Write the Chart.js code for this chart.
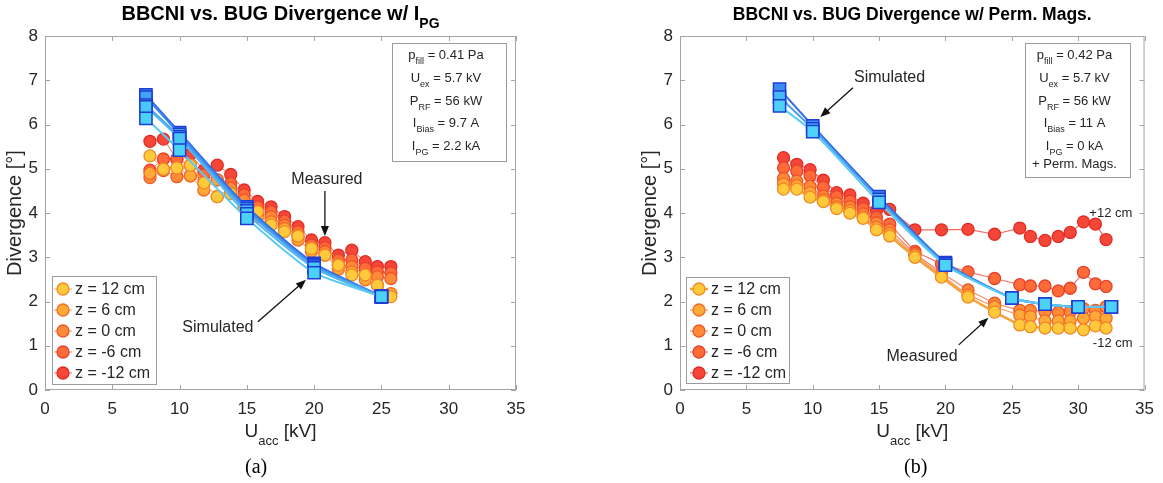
<!DOCTYPE html>
<html>
<head>
<meta charset="utf-8">
<script src="https://cdn.jsdelivr.net/npm/chart.js@4.4.1/dist/chart.umd.min.js"></script>
<style>
  body { margin:0; background:#fff; width:1163px; height:483px; overflow:hidden; position:relative; }
  canvas { position:absolute; top:0; }
  #ca { left:0; }
  #cb { left:580px; }
  .cap { position:absolute; top:455px; font:20px "Liberation Serif","Times New Roman",serif; color:#000; line-height:23px; }
</style>
</head>
<body>
<canvas id="ca" width="580" height="483"></canvas>
<canvas id="cb" width="583" height="483"></canvas>
<div class="cap" style="left:245px">(a)</div>
<div class="cap" style="left:904px">(b)</div>
<script>
// ---- data ----
const zLabels = ['z = 12 cm', 'z = 6 cm', 'z = 0 cm', 'z = -6 cm', 'z = -12 cm'];
const xTicks = [0, 5, 10, 15, 20, 25, 30, 35];
const yTicks = [0, 1, 2, 3, 4, 5, 6, 7, 8];

// (a) with I_PG
const xMeasA = [7.8, 8.8, 9.8, 10.8, 11.8, 12.8, 13.8, 14.8, 15.8, 16.8, 17.8, 18.8, 19.8, 20.8, 21.8, 22.8, 23.8, 24.7, 25.7];
const measA12  = [5.29, 4.99, 5.02, 5.08, 4.68, 4.37, 4.44, 4.14, 4.03, 3.73, 3.58, 3.48, 3.20, 3.05, 2.82, 2.60, 2.60, 2.37, 2.11];
const measA6   = [4.90, 4.99, 5.02, 4.84, 4.52, 4.75, 4.44, 4.14, 3.92, 3.80, 3.65, 3.39, 3.13, 3.05, 2.73, 2.67, 2.49, 2.37, 2.18];
const measA0   = [4.80, 4.96, 4.82, 4.84, 4.68, 4.37, 4.56, 4.29, 4.03, 3.92, 3.72, 3.48, 3.20, 3.13, 2.82, 2.79, 2.60, 2.56, 2.52];
const measAm6  = [4.97, 5.22, 5.22, 5.08, 4.86, 4.75, 4.67, 4.41, 4.14, 4.03, 3.82, 3.58, 3.28, 3.22, 2.94, 2.94, 2.75, 2.67, 2.65];
const measAm12 = [5.62, 5.67, 5.22, 5.33, 4.97, 5.08, 4.87, 4.52, 4.26, 4.14, 3.92, 3.69, 3.39, 3.33, 3.05, 3.16, 2.90, 2.79, 2.79];
const xSimA = [7.5, 10, 15, 20, 25];
const simA1 = [6.67, 5.82, 4.14, 2.86, 2.12];
const simA2 = [6.62, 5.78, 4.10, 2.83, 2.12];
const simA3 = [6.44, 5.72, 4.05, 2.80, 2.11];
const simA4 = [6.40, 5.68, 3.98, 2.76, 2.10];
const simA5 = [6.14, 5.42, 3.88, 2.65, 2.11];

// (b) with permanent magnets
const xMeasB = [7.8, 8.8, 9.8, 10.8, 11.8, 12.8, 13.8, 14.8, 15.8, 17.7, 19.7, 21.7, 23.7, 25.6, 26.4, 27.5, 28.5, 29.4, 30.4, 31.3, 32.1];
const measB12  = [4.54, 4.54, 4.36, 4.26, 4.10, 4.00, 3.88, 3.62, 3.48, 3.00, 2.55, 2.10, 1.76, 1.47, 1.43, 1.40, 1.40, 1.40, 1.36, 1.45, 1.40];
const measB6   = [4.66, 4.62, 4.46, 4.30, 4.14, 4.06, 3.92, 3.68, 3.54, 3.05, 2.60, 2.15, 1.88, 1.69, 1.66, 1.56, 1.56, 1.56, 1.62, 1.66, 1.62];
const measB0   = [4.78, 4.72, 4.60, 4.38, 4.22, 4.14, 3.98, 3.78, 3.62, 3.08, 2.65, 2.26, 1.96, 1.80, 1.80, 1.77, 1.75, 1.77, 1.84, 1.80, 1.88];
const measBm6  = [5.02, 4.95, 4.84, 4.58, 4.37, 4.27, 4.10, 3.90, 3.75, 3.13, 2.85, 2.67, 2.52, 2.38, 2.35, 2.35, 2.24, 2.30, 2.66, 2.40, 2.34];
const measBm12 = [5.25, 5.10, 4.98, 4.74, 4.46, 4.41, 4.22, 4.05, 4.08, 3.62, 3.62, 3.63, 3.52, 3.66, 3.47, 3.38, 3.47, 3.56, 3.80, 3.75, 3.40];
const xSimB = [7.5, 10, 15, 20, 25, 27.5, 30, 32.5];
const simB1 = [6.80, 5.97, 4.37, 2.88, 2.08, 1.94, 1.88, 1.88];
const simB2 = [6.62, 5.90, 4.31, 2.85, 2.08, 1.94, 1.88, 1.88];
const simB3 = [6.42, 5.84, 4.24, 2.82, 2.08, 1.94, 1.88, 1.88];

const infoA = [
  [['p', 0], ['fill', 1], [' = 0.41 Pa', 0]],
  [['U', 0], ['ex', 1], [' = 5.7 kV', 0]],
  [['P', 0], ['RF', 1], [' = 56 kW', 0]],
  [['I', 0], ['Bias', 1], [' = 9.7 A', 0]],
  [['I', 0], ['PG', 1], [' = 2.2 kA', 0]]
];
const infoB = [
  [['p', 0], ['fill', 1], [' = 0.42 Pa', 0]],
  [['U', 0], ['ex', 1], [' = 5.7 kV', 0]],
  [['P', 0], ['RF', 1], [' = 56 kW', 0]],
  [['I', 0], ['Bias', 1], [' = 11 A', 0]],
  [['I', 0], ['PG', 1], [' = 0 kA', 0]],
  [['+ Perm. Mags.', 0]]
];

// ---- styles ----
const FF = 'Arial, "Liberation Sans", Helvetica, sans-serif';
const TXT = '#262626';
const measFill   = ['#FFC93C', '#FFA936', '#FF8B38', '#FF6B38', '#F4473A'];
const measBorder = ['#F08A26', '#F26A28', '#EE5528', '#E8402A', '#E32B22'];
const measLine   = ['#F6B060', '#F59A62', '#F58A66', '#F27A68', '#EE6A62'];
const simLine = ['#2E6BE6', '#3C86EE', '#4AA0F0', '#52B6F2', '#5CCBF3'];
const simFill = ['#3C8CF4', '#40A4F5', '#45BAF5', '#48C6F6', '#4DD2F7'];

function pts(xs, ys) { return xs.map((x, i) => ({ x: x, y: ys[i] })); }

function measSet(xs, ys, i, lw, lineCol) {
  return {
    label: zLabels[i], data: pts(xs, ys), showLine: true, meas: true,
    borderColor: lineCol || measLine[i], borderWidth: lw,
    pointBackgroundColor: measFill[i], pointBorderColor: measBorder[i],
    pointBorderWidth: 1.3, pointRadius: 6, pointHoverRadius: 6, tension: 0
  };
}
function simSet(xs, ys, i) {
  return {
    label: 'sim', data: pts(xs, ys), showLine: true,
    borderColor: simLine[i], borderWidth: 2,
    pointStyle: 'rect', pointRadius: 8.6, pointHoverRadius: 8.6,
    pointBackgroundColor: simFill[i], pointBorderColor: '#1E3CD6', pointBorderWidth: 1.5,
    tension: 0.2
  };
}

function rich(ctx, segs, x, y, size, bold, align) {
  const fb = (bold ? 'bold ' : '') + size + 'px ' + FF;
  const fs = (bold ? 'bold ' : '') + Math.round(size * 0.68) + 'px ' + FF;
  let w = 0;
  segs.forEach(s => { ctx.font = s[1] ? fs : fb; w += ctx.measureText(s[0]).width; });
  let cx = align === 'center' ? x - w / 2 : x;
  ctx.textAlign = 'left';
  ctx.textBaseline = 'alphabetic';
  segs.forEach(s => {
    ctx.font = s[1] ? fs : fb;
    ctx.fillText(s[0], cx, y + (s[1] ? size * 0.4 : 0));
    cx += ctx.measureText(s[0]).width;
  });
}

function arrow(ctx, x1, y1, x2, y2) {
  const ang = Math.atan2(y2 - y1, x2 - x1), L = 10, W = 4;
  ctx.beginPath();
  ctx.moveTo(x1, y1);
  ctx.lineTo(x2 - Math.cos(ang) * L * 0.8, y2 - Math.sin(ang) * L * 0.8);
  ctx.stroke();
  ctx.beginPath();
  ctx.moveTo(x2, y2);
  ctx.lineTo(x2 - Math.cos(ang) * L - Math.sin(ang) * W, y2 - Math.sin(ang) * L + Math.cos(ang) * W);
  ctx.lineTo(x2 - Math.cos(ang) * L + Math.sin(ang) * W, y2 - Math.sin(ang) * L - Math.cos(ang) * W);
  ctx.closePath();
  ctx.fill();
}

const decor = {
  id: 'decor',
  beforeDatasetsDraw(chart) {
    const ctx = chart.ctx, a = chart.chartArea, sx = chart.scales.x, sy = chart.scales.y;
    ctx.save();
    ctx.strokeStyle = '#A4A4A4';
    ctx.lineWidth = 1;
    ctx.strokeRect(a.left + 0.5, a.top + 0.5, a.right - a.left - 1, a.bottom - a.top - 1);
    ctx.beginPath();
    xTicks.forEach(v => {
      const p = Math.round(sx.getPixelForValue(v)) + 0.5;
      ctx.moveTo(p, a.bottom); ctx.lineTo(p, a.bottom - 5);
      ctx.moveTo(p, a.top); ctx.lineTo(p, a.top + 5);
    });
    yTicks.forEach(v => {
      const p = Math.round(sy.getPixelForValue(v)) + 0.5;
      ctx.moveTo(a.left, p); ctx.lineTo(a.left + 5, p);
      ctx.moveTo(a.right, p); ctx.lineTo(a.right - 5, p);
    });
    ctx.stroke();
    ctx.restore();
  },
  afterDraw(chart, args, o) {
    const ctx = chart.ctx, a = chart.chartArea, sx = chart.scales.x, sy = chart.scales.y;
    const mid = (a.left + a.right) / 2;
    ctx.save();
    ctx.fillStyle = '#000';
    rich(ctx, o.title, mid, 20, o.titleSize, true, 'center');
    ctx.fillStyle = TXT;
    rich(ctx, [['U', 0], ['acc', 1], [' [kV]', 0]], mid, 437, 19, false, 'center');

    // info box
    const b = o.info.box;
    ctx.fillStyle = '#fff';
    ctx.fillRect(b[0], b[1], b[2] - b[0], b[3] - b[1]);
    ctx.strokeStyle = '#9C9C9C';
    ctx.lineWidth = 1;
    ctx.strokeRect(b[0] + 0.5, b[1] + 0.5, b[2] - b[0], b[3] - b[1]);
    ctx.fillStyle = TXT;
    o.info.lines.forEach((ln, i) => rich(ctx, ln, (b[0] + b[2]) / 2 - 3, o.info.base[i], 13, false, 'center'));

    // legend (measured series only)
    const g = o.legend.box;
    ctx.fillStyle = '#fff';
    ctx.fillRect(g[0], g[1], g[2] - g[0], g[3] - g[1]);
    ctx.strokeRect(g[0] + 0.5, g[1] + 0.5, g[2] - g[0], g[3] - g[1]);
    const ms = chart.data.datasets.filter(d => d.meas);
    ms.forEach((d, i) => {
      const y = o.legend.rows[i], cx = o.legend.cx;
      ctx.strokeStyle = d.borderColor;
      ctx.lineWidth = Math.max(1, d.borderWidth);
      ctx.beginPath(); ctx.moveTo(cx - 9, y); ctx.lineTo(cx + 9, y); ctx.stroke();
      ctx.beginPath(); ctx.arc(cx, y, 6, 0, Math.PI * 2);
      ctx.fillStyle = d.pointBackgroundColor; ctx.fill();
      ctx.strokeStyle = d.pointBorderColor; ctx.lineWidth = 1.3; ctx.stroke();
      ctx.fillStyle = TXT;
      ctx.font = '16px ' + FF;
      ctx.textAlign = 'left'; ctx.textBaseline = 'middle';
      ctx.fillText(d.label, cx + 12, y + 1);
    });

    // text notes and arrows
    ctx.strokeStyle = '#111';
    ctx.lineWidth = 1.3;
    o.notes.forEach(n => {
      ctx.font = n.size + 'px ' + FF;
      ctx.textAlign = 'center'; ctx.textBaseline = 'middle';
      ctx.fillStyle = TXT;
      ctx.fillText(n.text, sx.getPixelForValue(n.x), sy.getPixelForValue(n.y));
    });
    ctx.fillStyle = '#111';
    o.arrows.forEach(r => arrow(ctx, sx.getPixelForValue(r[0]), sy.getPixelForValue(r[1]),
                                    sx.getPixelForValue(r[2]), sy.getPixelForValue(r[3])));
    ctx.restore();
  }
};

function makeChart(id, datasets, padLeft, padRight, deco) {
  return new Chart(document.getElementById(id), {
    type: 'scatter',
    data: { datasets: datasets },
    plugins: [decor],
    options: {
      responsive: false, animation: false, devicePixelRatio: 1,
      layout: { padding: { left: padLeft, right: padRight, top: 36, bottom: 0 } },
      scales: {
        x: {
          type: 'linear', min: 0, max: 35,
          afterBuildTicks: s => { s.ticks = xTicks.map(v => ({ value: v })); },
          afterFit: s => { s.height = 93; },
          grid: { display: false, drawTicks: false }, border: { display: false },
          ticks: { color: TXT, font: { size: 17, family: FF }, padding: 9, maxRotation: 0 }
        },
        y: {
          min: 0, max: 8,
          afterBuildTicks: s => { s.ticks = yTicks.map(v => ({ value: v })); },
          afterFit: s => { s.width = 45; },
          grid: { display: false, drawTicks: false }, border: { display: false },
          ticks: { color: TXT, font: { size: 17, family: FF }, padding: 7 },
          title: { display: true, text: 'Divergence [°]', color: TXT, font: { size: 20, family: FF }, padding: { top: 3, bottom: 0 } }
        }
      },
      plugins: { legend: { display: false }, tooltip: { enabled: false }, decor: deco }
    }
  });
}

const dsA = [
  simSet(xSimA, simA5, 4), simSet(xSimA, simA4, 3), simSet(xSimA, simA3, 2), simSet(xSimA, simA2, 1), simSet(xSimA, simA1, 0),
  measSet(xMeasA, measA12, 0, 1), measSet(xMeasA, measA6, 1, 1), measSet(xMeasA, measA0, 2, 1),
  measSet(xMeasA, measAm6, 3, 1), measSet(xMeasA, measAm12, 4, 1)
];
const dsB = [
  simSet(xSimB, simB3, 4), simSet(xSimB, simB2, 2), simSet(xSimB, simB1, 0),
  measSet(xMeasB, measB12, 0, 2.5, '#F5A23E'), measSet(xMeasB, measB6, 1, 1.2), measSet(xMeasB, measB0, 2, 1.2),
  measSet(xMeasB, measBm6, 3, 1.2), measSet(xMeasB, measBm12, 4, 1.2)
];

makeChart('ca', dsA, 0, 64, {
  title: [['BBCNI vs. BUG Divergence w/ I', 0], ['PG', 1]], titleSize: 20,
  info: { box: [392, 43, 506, 161], lines: infoA, base: [59, 82, 105, 127, 150] },
  legend: { box: [52, 276, 156, 384], rows: [289, 310, 331, 352, 373], cx: 63 },
  notes: [{ text: 'Measured', x: 20.95, y: 4.75, size: 16 }, { text: 'Simulated', x: 12.85, y: 1.42, size: 16 }],
  arrows: [[20.8, 4.5, 20.8, 3.48], [15.82, 1.54, 19.39, 2.49]]
});
makeChart('cb', dsB, 55, 13, {
  title: [['BBCNI vs. BUG Divergence w/ Perm. Mags.', 0]], titleSize: 17.5,
  info: { box: [445, 43, 550, 177], lines: infoB, base: [59, 82, 105, 127, 150, 168] },
  legend: { box: [106, 277, 209, 383], rows: [289, 310, 331, 352, 373], cx: 119 },
  notes: [
    { text: 'Simulated', x: 15.79, y: 7.05, size: 16 }, { text: 'Measured', x: 18.24, y: 0.75, size: 16 },
    { text: '+12 cm', x: 32.46, y: 3.99, size: 13 }, { text: '-12 cm', x: 32.6, y: 1.06, size: 13 }
  ],
  arrows: [[13.03, 6.83, 10.57, 6.17], [21.0, 1.02, 23.23, 1.63]]
});
</script>
</body>
</html>
